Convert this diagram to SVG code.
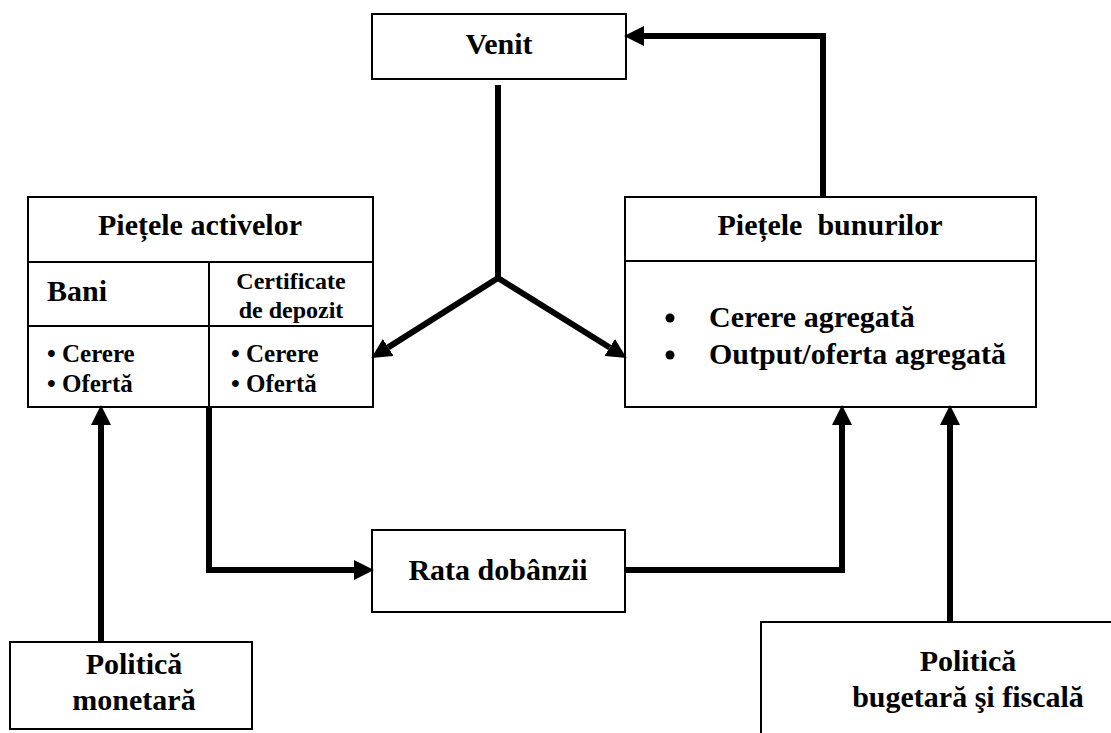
<svg xmlns="http://www.w3.org/2000/svg" width="1111" height="733" viewBox="0 0 1111 733">
<style>
.box{fill:#fff;stroke:#000;stroke-width:2}
.div{stroke:#000;stroke-width:2;fill:none}
.t{font-family:"Liberation Serif","Times New Roman",serif;font-weight:bold;font-size:30px;fill:#000}
.s{font-size:25px}
.c{font-size:24px}
.m{text-anchor:middle}
.con{fill:none;stroke:#000;stroke-width:6;stroke-linejoin:miter;marker-end:url(#ah)}
</style>
<defs>
<marker id="ah" markerUnits="userSpaceOnUse" markerWidth="20" markerHeight="20" refX="0" refY="9" orient="auto" viewBox="0 0 18 18">
<path d="M0,0 L18,9 L0,18 Z" fill="#000"/>
</marker>
</defs>
<rect width="1111" height="733" fill="#fff"/>
<g id="venit">
<rect class="box" x="372" y="14" width="254" height="65"/>
<text class="t m" x="499" y="54">Venit</text>
</g>
<g id="pietele-activelor">
<rect class="box" x="28" y="197" width="345" height="210"/>
<line class="div" x1="28" y1="262" x2="373" y2="262"/>
<line class="div" x1="28" y1="326" x2="373" y2="326"/>
<line class="div" x1="209" y1="262" x2="209" y2="407"/>
<text class="t m" x="200" y="235">Piețele activelor</text>
<text class="t" x="47" y="301">Bani</text>
<text class="t c m" x="291" y="289">Certificate</text>
<text class="t c m" x="291" y="318">de depozit</text>
<text class="t s" x="47" y="362">• Cerere</text>
<text class="t s" x="47" y="392">• Ofertă</text>
<text class="t s" x="231" y="362">• Cerere</text>
<text class="t s" x="231" y="392">• Ofertă</text>
</g>
<g id="pietele-bunurilor">
<rect class="box" x="625" y="197" width="411" height="210"/>
<line class="div" x1="625" y1="261" x2="1036" y2="261"/>
<text class="t m" x="830" y="235" xml:space="preserve">Piețele  bunurilor</text>
<circle cx="670" cy="318" r="4.5" fill="#000"/>
<circle cx="670" cy="355" r="4.5" fill="#000"/>
<text class="t" x="709" y="327">Cerere agregată</text>
<text class="t" x="709" y="364">Output/oferta agregată</text>
</g>
<g id="rata-dobanzii">
<rect class="box" x="372" y="530" width="253" height="82"/>
<text class="t m" x="498" y="580">Rata dobânzii</text>
</g>
<g id="politica-monetara">
<rect class="box" x="10" y="642" width="242" height="87"/>
<text class="t m" x="134" y="674">Politică</text>
<text class="t m" x="134" y="710">monetară</text>
</g>
<g id="politica-bugetara">
<rect class="box" x="761" y="622" width="360" height="130"/>
<text class="t m" x="968" y="671">Politică</text>
<text class="t m" x="968" y="707">bugetară şi fiscală</text>
</g>
<g id="connectors">
<path class="con" d="M823,197 V36 H644"/>
<path d="M498,85 V278" fill="none" stroke="#000" stroke-width="6"/>
<path class="con" d="M498,278 L388.2,347.4"/>
<path class="con" d="M498,278 L609.7,347.5"/>
<path class="con" d="M209,407 V570 H354"/>
<path class="con" d="M625,570 H842 V425"/>
<path class="con" d="M101,642 V425"/>
<path class="con" d="M950,622 V425"/>
</g>
</svg>
